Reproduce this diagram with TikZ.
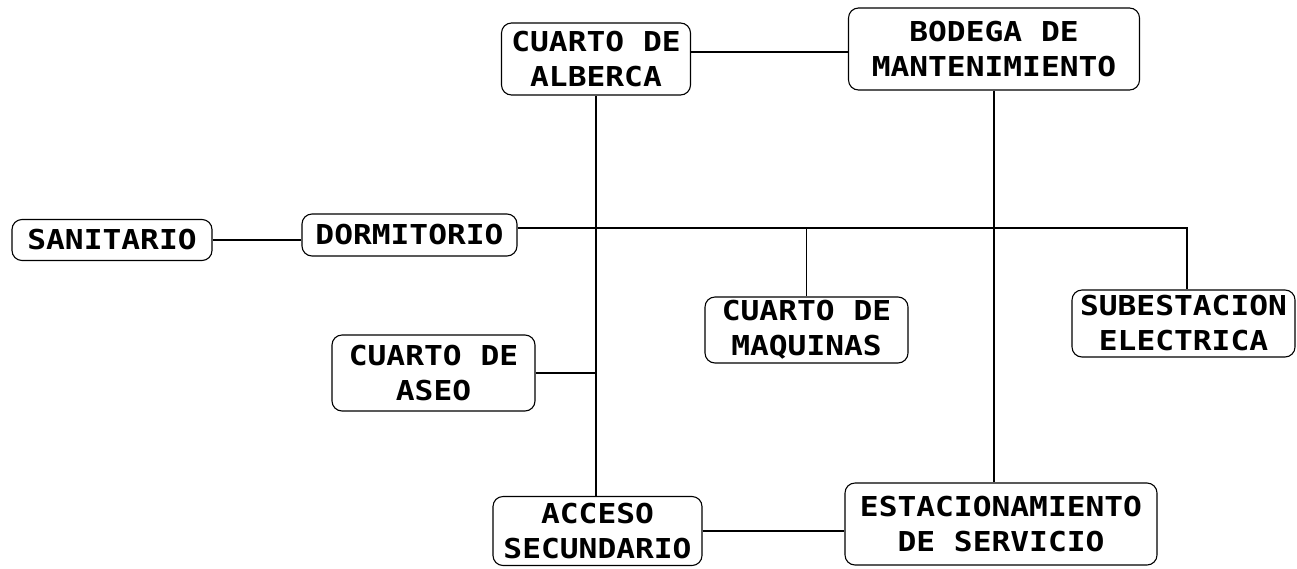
\documentclass[tikz,border=0pt]{standalone}
\usepackage{fontspec}
\newfontfamily\boxfont[FakeStretch=1.14]{DejaVu Sans Mono}
\begin{document}
\begin{tikzpicture}[x=1pt,y=-1pt,
  room/.style={draw, rounded corners=10pt, line width=1.1pt, align=center,
    inner sep=0pt, font=\boxfont\bfseries\fontsize{27.4}{35}\selectfont},
  link/.style={line width=1.1pt}]
\useasboundingbox (0,0) rectangle (1297,568);
\node[room, minimum width=189pt, minimum height=72pt] (alberca) at (596,59) {CUARTO DE\\ALBERCA};
\node[room, minimum width=291pt, minimum height=82pt] (bodega) at (994,49) {BODEGA DE\\MANTENIMIENTO};
\node[room, minimum width=200pt, minimum height=41pt] (sanitario) at (112,240) {SANITARIO};
\node[room, minimum width=215pt, minimum height=42pt] (dormitorio) at (409.5,235) {DORMITORIO};
\node[room, minimum width=203pt, minimum height=66pt] (maquinas) at (806.5,330) {CUARTO DE\\MAQUINAS};
\node[room, minimum width=223pt, minimum height=67pt] (subestacion) at (1183.5,323.5) {SUBESTACION\\ELECTRICA};
\node[room, minimum width=203pt, minimum height=76pt] (aseo) at (433.5,373) {CUARTO DE\\ASEO};
\node[room, minimum width=209pt, minimum height=69pt] (acceso) at (597.5,531) {ACCESO\\SECUNDARIO};
\node[room, minimum width=312pt, minimum height=82pt] (estac) at (1001,524) {ESTACIONAMIENTO\\DE SERVICIO};
\coordinate (top) at (0,52);
\coordinate (J) at (1187,228);
\draw[link] (alberca.east |- top) -- (bodega.west |- top);
\draw[link] (alberca.south) -- (alberca.south |- acceso.north);
\draw[link] (aseo.east) -- (aseo.east -| alberca.south);
\draw[link] (bodega.south) -- (bodega.south |- estac.north);
\draw[link] (sanitario.east) -- (sanitario.east -| dormitorio.west);
\draw[link] (dormitorio.east |- J) -- (J) -- (J |- subestacion.north);
\draw[link] (maquinas.north |- J) -- (maquinas.north);
\draw[link] (acceso.east) -- (acceso.east -| estac.west);
\end{tikzpicture}
\end{document}
